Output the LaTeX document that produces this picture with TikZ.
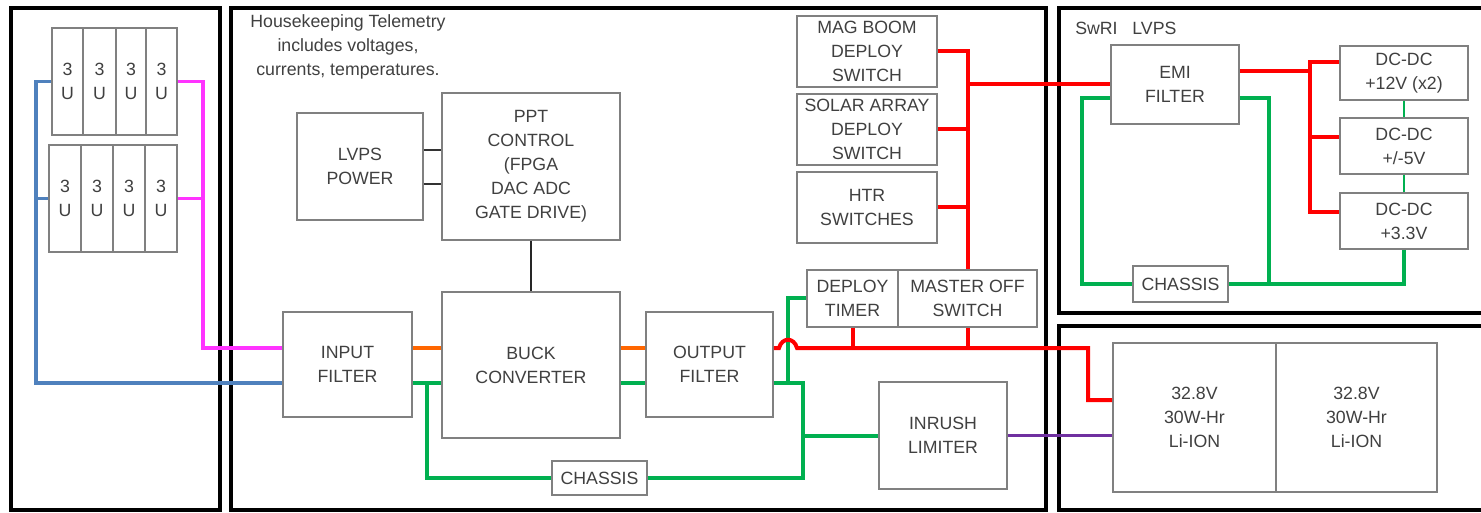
\documentclass[tikz,border=0pt]{standalone}
\usepackage{fontspec}
\setmainfont{Liberation Sans}
\definecolor{boxgray}{RGB}{128,128,128}
\definecolor{txtgray}{RGB}{64,64,64}
\definecolor{wred}{RGB}{255,0,0}
\definecolor{wgreen}{RGB}{0,176,80}
\definecolor{worange}{RGB}{255,102,0}
\definecolor{wmagenta}{RGB}{255,51,255}
\definecolor{wblue}{RGB}{79,129,189}
\definecolor{wpurple}{RGB}{112,48,160}
\begin{document}
\begin{tikzpicture}[x=0.75pt,y=-0.75pt,
  bx/.style={draw=boxgray, line width=1.3pt, align=center, inner sep=0pt, text=txtgray,
    font=\fontsize{13.3}{18}\selectfont},
  sz/.style 2 args={minimum width=#1*0.75pt, minimum height=#2*0.75pt},
  frame/.style={draw=black, line width=3pt, inner sep=0pt},
  lbl/.style={align=center, inner sep=0pt, text=txtgray, font=\fontsize{13.3}{18}\selectfont},
  redl/.style={draw=wred, line width=3pt},
  grnl/.style={draw=wgreen, line width=3pt},
  grnthin/.style={draw=wgreen, line width=1.6pt},
  orgl/.style={draw=worange, line width=3.2pt},
  magl/.style={draw=wmagenta, line width=2.3pt},
  blul/.style={draw=wblue, line width=2.3pt},
  purl/.style={draw=wpurple, line width=2.3pt},
  blkl/.style={draw=black!80, line width=2pt}
]
\clip (0,0) rectangle (1481,513);
\fill[white] (0,0) rectangle (1481,513);

% frames
\node[frame, sz={209}{502}] (f1) at (115.5,259) {};
\node[frame, sz={815}{502}] (f2) at (638.5,259) {};
\node[frame, sz={431}{305}] (f3) at (1274.5,160.5) {};
\node[frame, sz={431}{184}] (f4) at (1274.5,418) {};

% 3U modules
\node[bx, sz={31}{107}] (u1) at (67.5,81.5) {3\\U};
\node[bx, sz={33}{107}] (u2) at (99.5,81.5) {3\\U};
\node[bx, sz={30}{107}] (u3) at (131,81.5) {3\\U};
\node[bx, sz={31}{107}] (u4) at (161.5,81.5) {3\\U};
\node[bx, sz={32}{107}] (u5) at (65,198.5) {3\\U};
\node[bx, sz={32}{107}] (u6) at (97,198.5) {3\\U};
\node[bx, sz={32}{107}] (u7) at (129,198.5) {3\\U};
\node[bx, sz={32}{107}] (u8) at (161,198.5) {3\\U};

% main box
\node[lbl] (hk) at (348,47) {Housekeeping Telemetry\\includes voltages,\\currents, temperatures.};
\node[bx, sz={126}{107}] (lvps) at (360,166.5) {LVPS\\POWER};
\node[bx, sz={178}{147}] (ppt) at (531,166.5) {PPT\\CONTROL\\(FPGA\\DAC ADC\\GATE DRIVE)};
\node[bx, sz={129}{105}] (infil) at (347.5,364.5) {INPUT\\FILTER};
\node[bx, sz={178}{146}] (buck) at (531,365) {BUCK\\CONVERTER};
\node[bx, sz={127}{105}] (outf) at (709.5,364.5) {OUTPUT\\FILTER};
\node[bx, sz={95}{34}] (ch1) at (599.5,478) {CHASSIS};
\node[bx, sz={140}{71}] (mag) at (867,51.5) {MAG BOOM\\DEPLOY\\SWITCH};
\node[bx, sz={140}{71}] (solar) at (867,129.5) {SOLAR ARRAY\\DEPLOY\\SWITCH};
\node[bx, sz={140}{71}] (htr) at (867,207.5) {HTR\\SWITCHES};
\node[bx, sz={91}{57}] (deploy) at (852.5,298.5) {DEPLOY\\TIMER};
\node[bx, sz={139}{57}] (master) at (967.5,298.5) {MASTER OFF\\SWITCH};
\node[bx, sz={128}{107}] (inrush) at (943,435.5) {INRUSH\\LIMITER};

% SwRI LVPS
\node[lbl, anchor=west] (swri) at (1075,28) {SwRI\ \ \ LVPS};
\node[bx, sz={128}{79}] (emi) at (1175,84.5) {EMI\\FILTER};
\node[bx, sz={128}{54}] (dc1) at (1404,73) {DC-DC\\+12V (x2)};
\node[bx, sz={128}{56}] (dc2) at (1404,146) {DC-DC\\+/-5V};
\node[bx, sz={128}{56}] (dc3) at (1404,221) {DC-DC\\+3.3V};
\node[bx, sz={95}{36}] (ch2) at (1180.5,284) {CHASSIS};

% batteries
\node[bx, sz={163}{149}] (bat1) at (1194.5,417.5) {32.8V\\30W-Hr\\Li-ION};
\node[bx, sz={161}{149}] (bat2) at (1356.5,417.5) {32.8V\\30W-Hr\\Li-ION};

% row coordinates
\coordinate (rowA) at (0,348);
\coordinate (rowB) at (0,383);
\coordinate (bj) at (36,383);
\coordinate (mj) at (203,348);
\coordinate (gj1) at (427,383);
\coordinate (gj2) at (803,436);
\coordinate (gj3) at (788,383);
\coordinate (rj) at (1088,348);
\coordinate (rbus) at (1310,0);

% blue and magenta from 3U
\draw[blul] (u1.west) -| (bj) -- (infil.west |- bj);
\draw[blul] (u5.west) -- (u5.west -| bj);
\draw[magl] (u4.east) -| (mj) -- (infil.west |- mj);
\draw[magl] (u8.east) -- (u8.east -| mj);

% black signal lines
\draw[blkl] (lvps.east |- 0,150) -- (ppt.west |- 0,150);
\draw[blkl] (lvps.east |- 0,184) -- (ppt.west |- 0,184);
\draw[black!85, line width=1.6pt] (ppt.south) -- (buck.north);

% orange
\draw[orgl] (infil.east |- rowA) -- (buck.west |- rowA);
\draw[orgl] (buck.east |- rowA) -- (outf.west |- rowA);

% green (main)
\draw[grnl] (infil.east |- rowB) -- (buck.west |- rowB);
\draw[grnl] (gj1) |- (ch1.west);
\draw[grnl] (buck.east |- rowB) -- (outf.west |- rowB);
\draw[grnl] (outf.east |- rowB) -| (gj2) -- (inrush.west |- gj2);
\draw[grnl] (ch1.east) -| (gj2);
\draw[grnl] (gj3) |- (deploy.west);

% red (main)
\draw[redl] (mag.east) -| (master.north);
\draw[redl] (solar.east) -- (solar.east -| master.north);
\draw[redl] (htr.east) -- (htr.east -| master.north);
\draw[redl] (emi.west -| master.north) -- (emi.west);
\draw[redl] (outf.east |- rowA) -- (779,348) .. controls (782,337) and (794,337) .. (797,348) -- (rj) -- (1088,400) -- (bat1.west |- 0,400);
\draw[redl] (deploy.south) -- (deploy.south |- rowA);
\draw[redl] (master.south) -- (master.south |- rowA);

% purple
\draw[purl] (inrush.east) -- (bat1.west |- inrush.east);

% SwRI internal
\draw[redl] (emi.east |- 0,71) -- (rbus |- 0,71);
\draw[redl] (dc1.west |- 0,62) -- (rbus |- 0,62) -- (rbus |- 0,212) -- (dc3.west |- 0,212);
\draw[redl] (rbus |- 0,137) -- (dc2.west |- 0,137);
\draw[grnthin] (dc1.south) -- (dc2.north);
\draw[grnthin] (dc2.south) -- (dc3.north);
\draw[grnl] (dc3.south) |- (ch2.east);
\draw[grnl] (emi.west |- 0,98) -- (1082,98) |- (ch2.west);
\draw[grnl] (emi.east |- 0,98) -- (1269,98) -- (1269,284);
\end{tikzpicture}
\end{document}
